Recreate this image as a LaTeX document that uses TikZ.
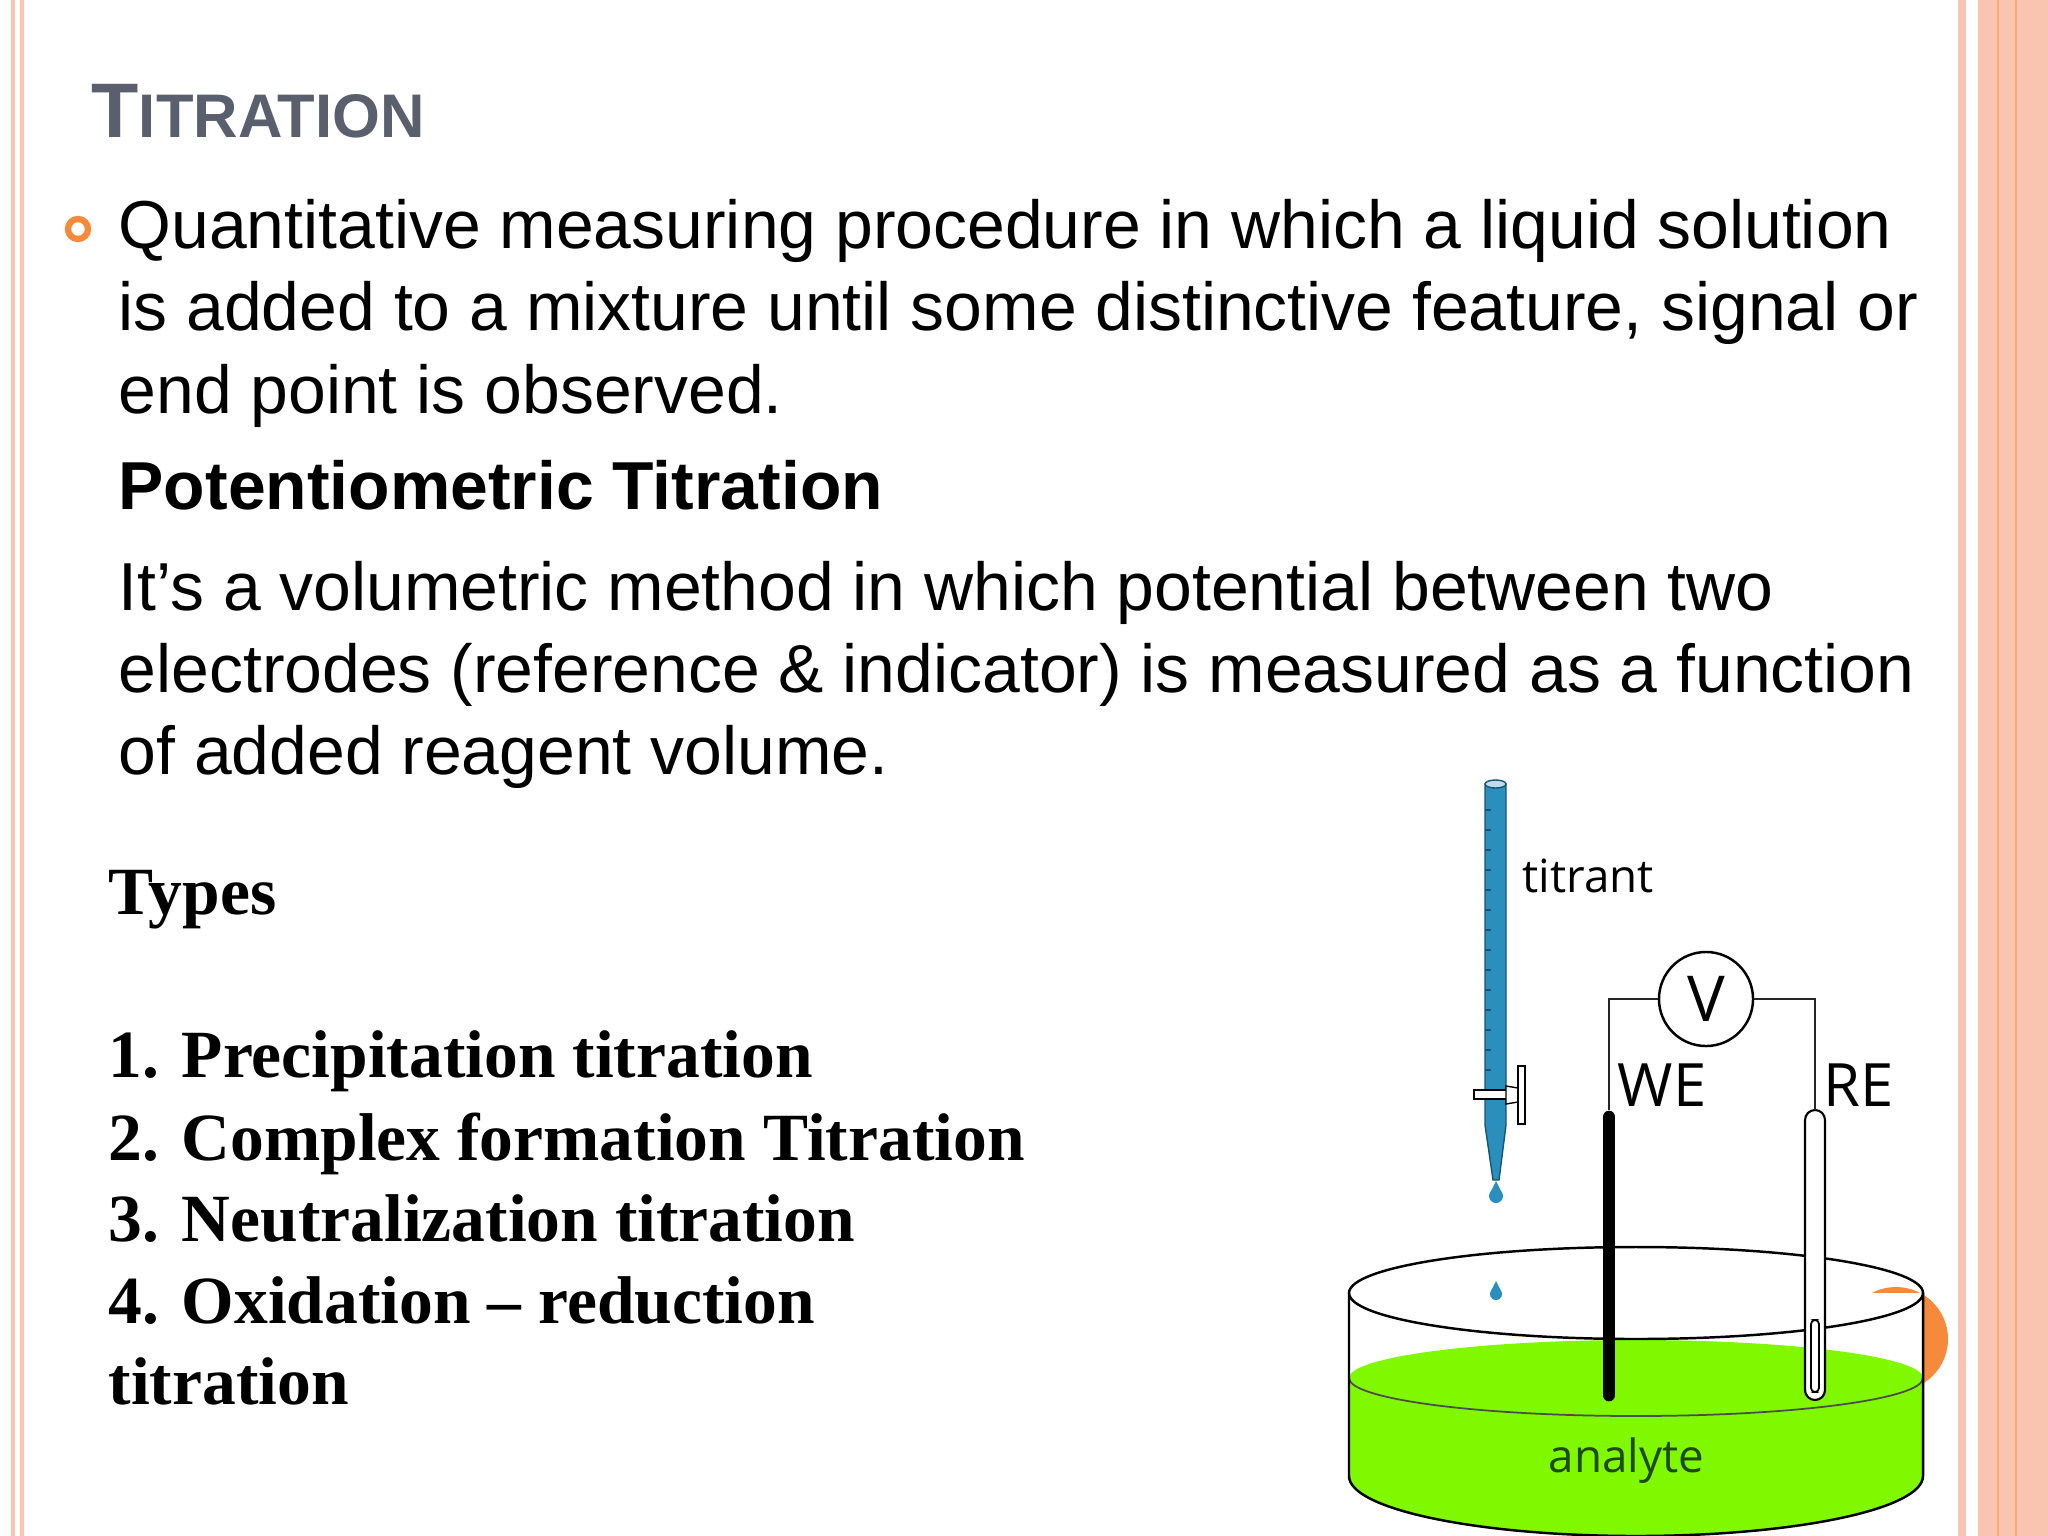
\documentclass[tikz,border=0pt]{standalone}
\usepackage{fontspec}
\setmainfont{Liberation Sans}
\newfontfamily\serifb{Liberation Serif}
\newfontfamily\labfont{Open Sans}
\definecolor{pinkb}{HTML}{F9C4B0}
\definecolor{orangeb}{HTML}{F58A3C}
\definecolor{titlegray}{HTML}{5A5F6E}
\definecolor{burblue}{HTML}{2A8FBD}
\definecolor{liquid}{HTML}{80F800}
\definecolor{dgreen}{HTML}{1E4A10}
\tikzset{
 body/.style={anchor=base west,inner sep=0pt,font=\fontsize{19.3}{23}\selectfont},
 typ/.style={anchor=base west,inner sep=0pt,font=\serifb\bfseries\fontsize{19.2}{23}\selectfont},
 lab/.style={anchor=base west,inner sep=0pt,font=\labfont},
 wire/.style={line width=0.6pt,draw=black!85}
}
\begin{document}
\begin{tikzpicture}[x=0.01cm,y=-0.01cm]
\useasboundingbox (0,0) rectangle (2048,1536);
\fill[white] (0,0) rectangle (2048,1536);
% borders
\fill[pinkb] (11,0) rectangle (15,1536);
\fill[pinkb] (20,0) rectangle (24,1536);
\fill[pinkb] (1958,0) rectangle (1966,1536);
\fill[pinkb] (1978,0) rectangle (2048,1536);
\draw[orangeb!70,line width=0.4pt] (1998,0) -- (1998,1536) (2016,0) -- (2016,1536);
% title
\node[anchor=base west,inner sep=0pt,text=titlegray,font=\bfseries] (title) at (91,137)
 {{\fontsize{22}{26}\selectfont T}{\fontsize{17.5}{21}\selectfont ITRATION}};
% bullet
\draw[orangeb,line width=1.8pt] (78,229) circle (10);
\node[body] (l1) at (118,248) {Quantitative measuring procedure in which a liquid solution};
\node[body] (l2) at (118,330) {is added to a mixture until some distinctive feature, signal or};
\node[body] (l3) at (118,413) {end point is observed.};
\node[body,font=\bfseries\fontsize{19.3}{23}\selectfont] (pt) at (118,509) {Potentiometric Titration};
\node[body] (m1) at (118,610) {It’s a volumetric method in which potential between two};
\node[body] (m2) at (118,692) {electrodes (reference \& indicator) is measured as a function};
\node[body] (m3) at (118,774) {of added reagent volume.};
\node[typ] (types) at (108,914) {Types};
\node[typ] (t1) at (108,1077) {1. Precipitation titration};
\node[typ] (t2) at (108,1160) {2. Complex formation Titration};
\node[typ] (t3) at (108,1241) {3. Neutralization titration};
\node[typ] (t4) at (108,1323) {4. Oxidation – reduction};
\node[typ] (t5) at (108,1404) {titration};
% orange half circle
\fill[orangeb] (1896,1339) circle (52);
% dish
\fill[white] (1349,1293) -- (1349,1476) arc[start angle=180,end angle=0,x radius=287,y radius=60] -- (1923,1293) -- cycle;
\fill[liquid] (1349,1378) -- (1349,1476) arc[start angle=180,end angle=0,x radius=287,y radius=60] -- (1923,1378) arc[start angle=0,end angle=-180,x radius=287,y radius=38] -- cycle;
\draw[line width=0.5pt,black!70] (1349,1378) arc[start angle=180,end angle=0,x radius=287,y radius=38];
\draw[line width=0.7pt] (1636,1293) ellipse[x radius=287,y radius=46];
\draw[line width=0.7pt] (1349,1293) -- (1349,1476) arc[start angle=180,end angle=0,x radius=287,y radius=60] -- (1923,1293);
\node[lab,text=dgreen,font=\labfont\fontsize{13}{15}\selectfont] (an) at (1548,1472) {analyte};
% electrodes
\draw[line width=3.6pt,line cap=round] (1609,1117) -- (1609,1395);
\draw[line width=0.6pt,fill=white,rounded corners=0.1cm] (1805,1110) rectangle (1825,1400);
\draw[line width=0.5pt,rounded corners=0.04cm] (1811,1320) rectangle (1819,1392);
% voltmeter & wires
\node[circle,draw,line width=0.7pt,minimum size=0.94cm,inner sep=0pt,font=\labfont\fontsize{18}{22}\selectfont] (V) at (1706,999) {V};
\coordinate (we) at (1609,1110);
\coordinate (re) at (1815,1110);
\draw[wire] (V.west) -| (we);
\draw[wire] (V.east) -| (re);
\node[lab,font=\labfont\fontsize{17}{20}\selectfont] (WE) at (1617,1106) {WE};
\node[lab,font=\labfont\fontsize{17}{20}\selectfont] (RE) at (1823,1106) {RE};
% burette
\fill[burblue,draw=burblue!60!black,line width=0.4pt] (1485,784) -- (1485,1125) -- (1493,1180) -- (1499,1180) -- (1506,1125) -- (1506,784) -- cycle;
\fill[white!70!burblue,draw=burblue!60!black,line width=0.4pt] (1495.5,784) ellipse[x radius=10.5,y radius=4];
\foreach \y in {810,830,...,1090} \draw[burblue!60!black,line width=0.3pt] (1485,\y) -- (1491,\y);
\fill[burblue] (1496,1196) circle (7);
\fill[burblue] (1496,1181) -- (1490,1193) -- (1502,1193) -- cycle;
\fill[burblue] (1496,1294) circle (6);
\fill[burblue] (1496,1281) -- (1491,1291) -- (1501,1291) -- cycle;
% stopcock
\draw[line width=0.4pt,fill=white] (1474,1090) rectangle (1512,1099);
\draw[line width=0.4pt,fill=white] (1506,1086) -- (1518,1088) -- (1518,1102) -- (1506,1104) -- cycle;
\draw[line width=0.4pt,fill=white] (1518,1066) rectangle (1525,1124);
\node[lab,font=\labfont\fontsize{13}{16}\selectfont] (tit) at (1522,892) {titrant};
\end{tikzpicture}
\end{document}
